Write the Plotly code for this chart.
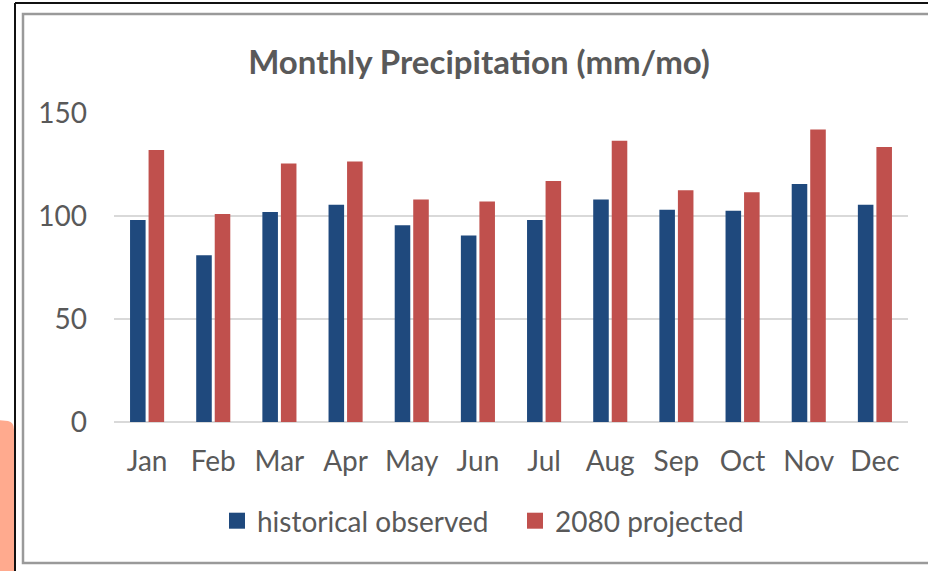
import plotly.graph_objects as go

months = ["Jan", "Feb", "Mar", "Apr", "May", "Jun", "Jul", "Aug", "Sep", "Oct", "Nov", "Dec"]
historical_observed = [98, 81, 102, 105.5, 95.5, 90.5, 98, 108, 103, 102.5, 115.5, 105.5]
projected_2080 = [132, 101, 125.5, 126.5, 108, 107, 117, 136.5, 112.5, 111.5, 142, 133.5]
y_ticks = [0, 50, 100, 150]
series_names = ["historical observed", "2080 projected"]
series_colors = ["#1F497D", "#C0504D"]

W, H = 928, 571
L, R, T, B = 114, 20, 113, 149
pw, ph = W - L - R, H - T - B

def px(x):
    return (x - L) / pw

def py(y):
    return (H - B - y) / ph

TXT = "#595959"
FONT = "Lato"

fig = go.Figure()
for vals, name, col in zip([historical_observed, projected_2080], series_names, series_colors):
    fig.add_trace(go.Bar(x=months, y=vals, name=name, showlegend=False, legendgroup=name,
                         marker=dict(color=col, line=dict(width=0))))
# legend entries with larger square swatches
for name, col in zip(series_names, series_colors):
    fig.add_trace(go.Scatter(x=[None], y=[None], mode="markers", name=name, legendgroup=name,
                             marker=dict(symbol="square", size=16, color=col)))

shapes = [
    # salmon decoration at bottom-left
    dict(type="path", xref="paper", yref="paper", layer="below",
         path=f"M {px(-2)},{py(575)} L {px(-2)},{py(420)} L {px(8)},{py(421)} Q {px(14)},{py(422)} {px(14)},{py(430)} L {px(14)},{py(575)} Z",
         fillcolor="#FFAA8E", line=dict(width=0)),
    # outer black frame lines
    dict(type="line", xref="paper", yref="paper", x0=px(15), x1=px(935), y0=py(3), y1=py(3),
         line=dict(color="#111111", width=2)),
    dict(type="line", xref="paper", yref="paper", x0=px(15), x1=px(15), y0=py(3), y1=py(575),
         line=dict(color="#111111", width=2)),
    # inner gray frame
    dict(type="rect", xref="paper", yref="paper", x0=px(23), x1=px(940), y0=py(14), y1=py(563),
         line=dict(color="#9A9A9A", width=2.5), fillcolor="rgba(0,0,0,0)"),
]

fig.update_layout(
    width=W, height=H,
    margin=dict(l=L, r=R, t=T, b=B),
    paper_bgcolor="white", plot_bgcolor="white",
    barmode="group", bargap=0.44, bargroupgap=0.16,
    title=dict(text="<b>Monthly Precipitation (mm/mo)</b>", x=px(479), xanchor="center",
               xref="paper", y=1 - 62 / H, yanchor="middle",
               font=dict(family=FONT, size=33, color=TXT)),
    font=dict(family=FONT, size=28, color=TXT),
    xaxis=dict(showgrid=False, showline=False, ticks="", ticklabelstandoff=20,
               tickfont=dict(family=FONT, size=28, color=TXT)),
    yaxis=dict(range=[0, 150], tickvals=y_ticks, showgrid=True, gridcolor="#D9D9D9",
               gridwidth=1.5, zeroline=True, zerolinecolor="#D9D9D9", zerolinewidth=1.5,
               showline=False, ticks="", ticklabelstandoff=26,
               tickfont=dict(family=FONT, size=28, color=TXT)),
    legend=dict(orientation="h", x=px(217), xanchor="left", y=py(521), yanchor="middle",
                font=dict(family=FONT, size=28, color=TXT), itemwidth=30,
                entrywidth=253, entrywidthmode="pixels",
                bgcolor="rgba(0,0,0,0)"),
    shapes=shapes,
)

fig.write_html("out.html", config={"displayModeBar": False},
               post_script="document.body.style.margin='0';document.body.style.padding='0';")
